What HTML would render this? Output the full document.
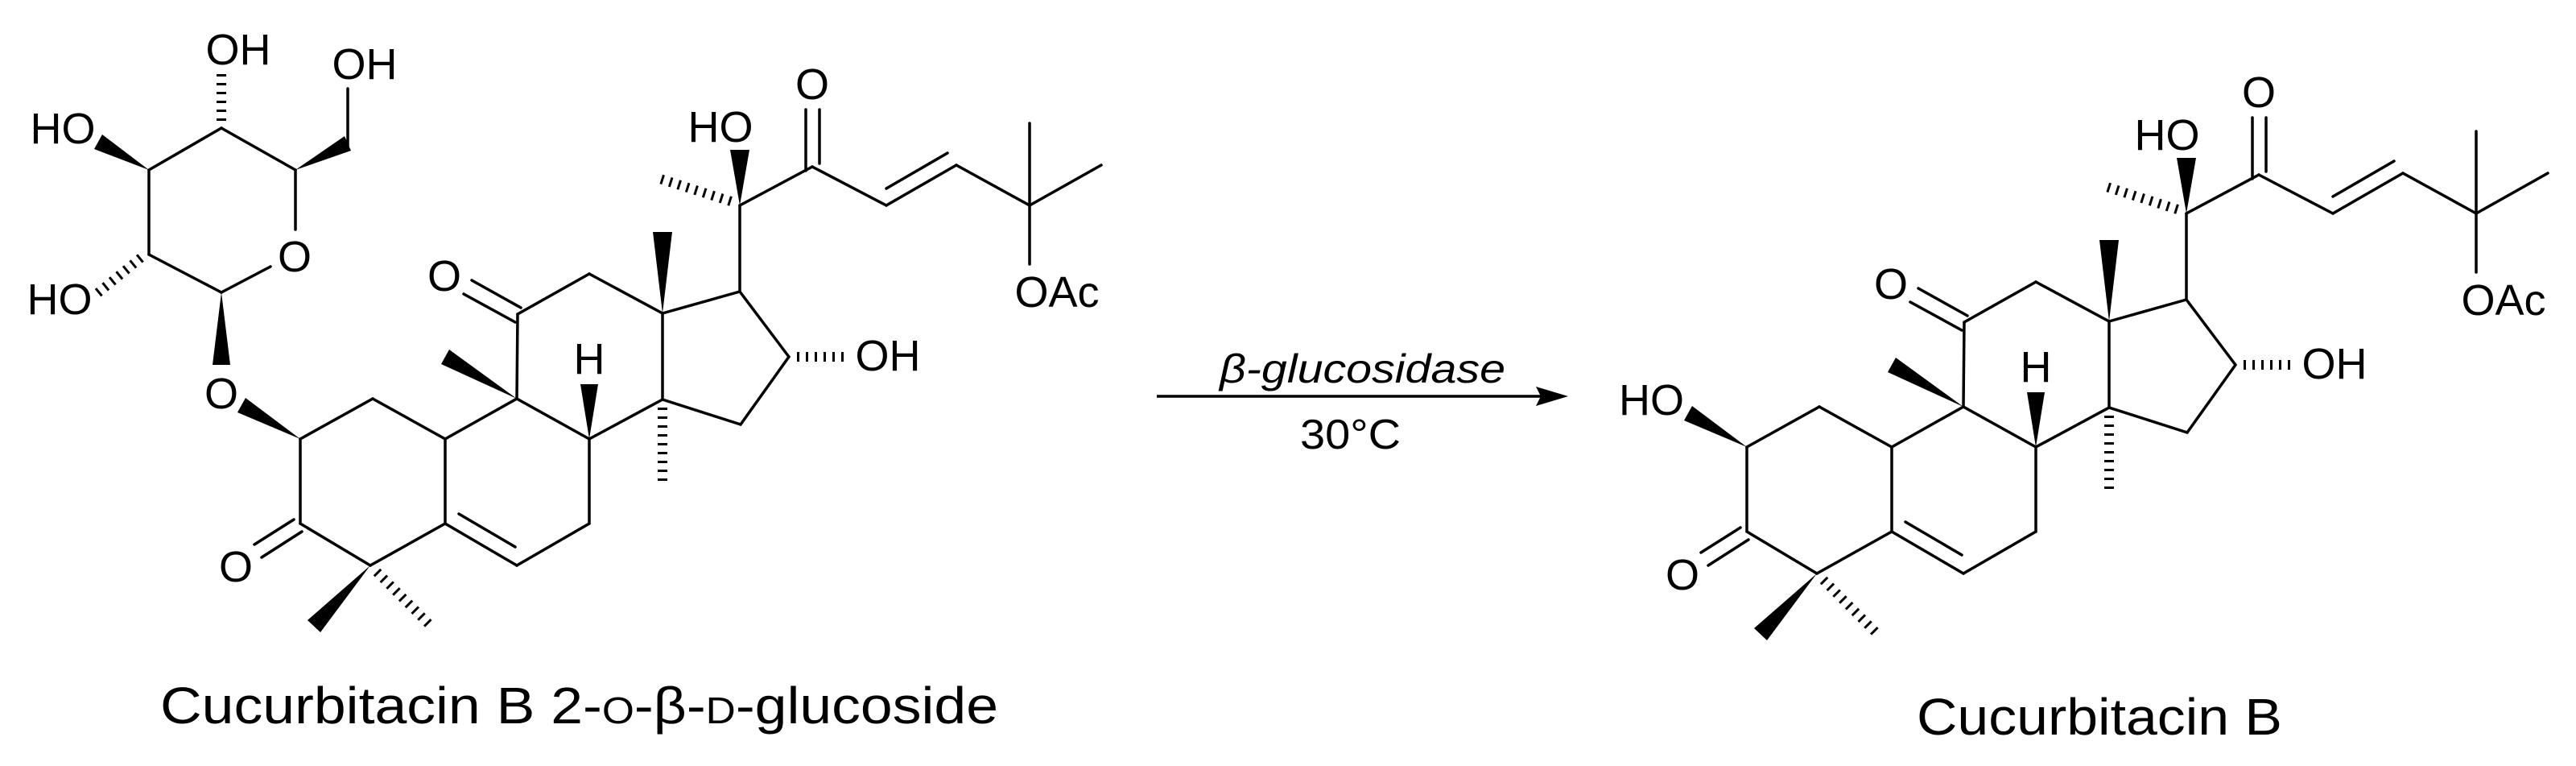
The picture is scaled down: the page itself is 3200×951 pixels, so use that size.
<!DOCTYPE html>
<html><head><meta charset="utf-8"><style>
html,body{margin:0;padding:0;background:#fff;}
svg{display:block;}
text{font-family:"Liberation Sans",Arial,sans-serif;fill:#000;}
</style></head><body>
<svg width="3200" height="951" viewBox="0 0 3200 951" xmlns="http://www.w3.org/2000/svg">
<g stroke="#000" stroke-width="3.5" fill="none" stroke-linecap="round">
<!-- sugar (left only) -->
<line x1="275" y1="363" x2="185" y2="316"/>
<line x1="185" y1="316" x2="185" y2="211"/>
<line x1="185" y1="211" x2="275" y2="159"/>
<line x1="275" y1="159" x2="367" y2="211"/>
<line x1="367" y1="211" x2="367" y2="285"/>
<line x1="336" y1="331" x2="275" y2="363"/>
<line x1="432" y1="182" x2="432" y2="110"/>
</g>
<g stroke="#000" stroke-width="12" fill="none" stroke-dasharray="3 8">
<line x1="275" y1="150" x2="275" y2="88"/>
<line x1="175" y1="320" x2="120" y2="365"/>
</g>
<g fill="#000">
<polygon points="185,211 127,167 117,185"/>
<polygon points="367,211 436,187 428,169"/>
<polygon points="275,363 286,453 264,453"/>
<polygon points="373,545 305,494 295,512"/>
<polygon points="2170,555 2102,504 2092,522"/>
</g>
<g font-size="54">
<text x="296" y="80" text-anchor="middle">OH</text>
<text x="453" y="98" text-anchor="middle">OH</text>
<text x="78" y="178" text-anchor="middle">HO</text>
<text x="366" y="337" text-anchor="middle">O</text>
<text x="74" y="390" text-anchor="middle">HO</text>
<text x="275" y="507" text-anchor="middle">O</text>
<text x="2092" y="515" text-anchor="end">HO</text>
</g>

<!-- core, left -->
<g id="core">
<g stroke="#000" stroke-width="3.5" fill="none" stroke-linecap="round">
<line x1="373" y1="545" x2="463" y2="495"/>
<line x1="463" y1="495" x2="553" y2="545"/>
<line x1="553" y1="545" x2="553" y2="650"/>
<line x1="553" y1="650" x2="460" y2="702"/>
<line x1="460" y1="702" x2="373" y2="650"/>
<line x1="373" y1="650" x2="373" y2="545"/>
<line x1="365" y1="645" x2="316" y2="676"/>
<line x1="375" y1="660" x2="325" y2="692"/>
<line x1="553" y1="650" x2="642" y2="702"/>
<line x1="570" y1="638" x2="640" y2="679"/>
<line x1="642" y1="702" x2="732" y2="650"/>
<line x1="732" y1="650" x2="732" y2="545"/>
<line x1="732" y1="545" x2="642" y2="495"/>
<line x1="642" y1="495" x2="553" y2="545"/>
<line x1="642" y1="495" x2="643" y2="390"/>
<line x1="647" y1="382" x2="586" y2="348"/>
<line x1="640" y1="400" x2="576" y2="365"/>
<line x1="643" y1="390" x2="732" y2="340"/>
<line x1="732" y1="340" x2="823" y2="389"/>
<line x1="823" y1="389" x2="823" y2="496"/>
<line x1="823" y1="496" x2="732" y2="545"/>
<line x1="823" y1="389" x2="919" y2="362"/>
<line x1="919" y1="362" x2="980" y2="443"/>
<line x1="980" y1="443" x2="920" y2="527"/>
<line x1="920" y1="527" x2="823" y2="496"/>
<line x1="919" y1="362" x2="919" y2="255"/>
<line x1="919" y1="255" x2="1009" y2="207"/>
<line x1="1001" y1="136" x2="1001" y2="212"/>
<line x1="1018" y1="136" x2="1018" y2="203"/>
<line x1="1009" y1="207" x2="1101" y2="255"/>
<line x1="1101" y1="255" x2="1188" y2="205"/>
<line x1="1101" y1="234" x2="1177" y2="190"/>
<line x1="1188" y1="205" x2="1279" y2="255"/>
<line x1="1279" y1="255" x2="1279" y2="153"/>
<line x1="1279" y1="255" x2="1368" y2="205"/>
<line x1="1279" y1="255" x2="1279" y2="328"/>
</g>
<g stroke="#000" stroke-width="12" fill="none" stroke-dasharray="3 8">
<line x1="468" y1="710" x2="537" y2="779"/>
<line x1="823" y1="506" x2="823" y2="598"/>
<line x1="990" y1="443" x2="1049" y2="443"/>
<line x1="908" y1="250" x2="820" y2="222"/>
</g>
<g fill="#000">
<polygon points="460,702 398,785 382,770"/>
<polygon points="642,495 558,434 548,452"/>
<polygon points="732,545 743,477 721,477"/>
<polygon points="823,389 835,288 811,288"/>
<polygon points="919,255 931,186 907,186"/>
</g>
<g font-size="54">
<text x="293" y="722" text-anchor="middle">O</text>
<text x="552" y="361" text-anchor="middle">O</text>
<text x="732" y="464" text-anchor="middle">H</text>
<text x="1103" y="460" text-anchor="middle">OH</text>
<text x="895" y="176" text-anchor="middle">HO</text>
<text x="1009" y="123" text-anchor="middle">O</text>
<text x="1313" y="381" text-anchor="middle">OAc</text>
</g>
</g>

<!-- core, right (copy) -->
<g transform="translate(1797,10)">
<g stroke="#000" stroke-width="3.5" fill="none" stroke-linecap="round">
<line x1="373" y1="545" x2="463" y2="495"/>
<line x1="463" y1="495" x2="553" y2="545"/>
<line x1="553" y1="545" x2="553" y2="650"/>
<line x1="553" y1="650" x2="460" y2="702"/>
<line x1="460" y1="702" x2="373" y2="650"/>
<line x1="373" y1="650" x2="373" y2="545"/>
<line x1="365" y1="645" x2="316" y2="676"/>
<line x1="375" y1="660" x2="325" y2="692"/>
<line x1="553" y1="650" x2="642" y2="702"/>
<line x1="570" y1="638" x2="640" y2="679"/>
<line x1="642" y1="702" x2="732" y2="650"/>
<line x1="732" y1="650" x2="732" y2="545"/>
<line x1="732" y1="545" x2="642" y2="495"/>
<line x1="642" y1="495" x2="553" y2="545"/>
<line x1="642" y1="495" x2="643" y2="390"/>
<line x1="647" y1="382" x2="586" y2="348"/>
<line x1="640" y1="400" x2="576" y2="365"/>
<line x1="643" y1="390" x2="732" y2="340"/>
<line x1="732" y1="340" x2="823" y2="389"/>
<line x1="823" y1="389" x2="823" y2="496"/>
<line x1="823" y1="496" x2="732" y2="545"/>
<line x1="823" y1="389" x2="919" y2="362"/>
<line x1="919" y1="362" x2="980" y2="443"/>
<line x1="980" y1="443" x2="920" y2="527"/>
<line x1="920" y1="527" x2="823" y2="496"/>
<line x1="919" y1="362" x2="919" y2="255"/>
<line x1="919" y1="255" x2="1009" y2="207"/>
<line x1="1001" y1="136" x2="1001" y2="212"/>
<line x1="1018" y1="136" x2="1018" y2="203"/>
<line x1="1009" y1="207" x2="1101" y2="255"/>
<line x1="1101" y1="255" x2="1188" y2="205"/>
<line x1="1101" y1="234" x2="1177" y2="190"/>
<line x1="1188" y1="205" x2="1279" y2="255"/>
<line x1="1279" y1="255" x2="1279" y2="153"/>
<line x1="1279" y1="255" x2="1368" y2="205"/>
<line x1="1279" y1="255" x2="1279" y2="328"/>
</g>
<g stroke="#000" stroke-width="12" fill="none" stroke-dasharray="3 8">
<line x1="468" y1="710" x2="537" y2="779"/>
<line x1="823" y1="506" x2="823" y2="598"/>
<line x1="990" y1="443" x2="1049" y2="443"/>
<line x1="908" y1="250" x2="820" y2="222"/>
</g>
<g fill="#000">
<polygon points="460,702 398,785 382,770"/>
<polygon points="642,495 558,434 548,452"/>
<polygon points="732,545 743,477 721,477"/>
<polygon points="823,389 835,288 811,288"/>
<polygon points="919,255 931,186 907,186"/>
</g>
<g font-size="54">
<text x="293" y="722" text-anchor="middle">O</text>
<text x="552" y="361" text-anchor="middle">O</text>
<text x="732" y="464" text-anchor="middle">H</text>
<text x="1103" y="460" text-anchor="middle">OH</text>
<text x="895" y="176" text-anchor="middle">HO</text>
<text x="1009" y="123" text-anchor="middle">O</text>
<text x="1313" y="381" text-anchor="middle">OAc</text>
</g>
</g>

<!-- arrow -->
<line x1="1437" y1="492" x2="1915" y2="492" stroke="#000" stroke-width="3.5"/>
<polygon points="1948,492 1908,480 1914,492 1908,504" fill="#000"/>
<text x="1515" y="475" font-size="50" font-style="italic" textLength="355" lengthAdjust="spacingAndGlyphs">β-glucosidase</text>
<text x="1615" y="557" font-size="52" textLength="125" lengthAdjust="spacingAndGlyphs">30°C</text>

<text x="199" y="898" font-size="64" textLength="1041" lengthAdjust="spacingAndGlyphs">Cucurbitacin B 2-<tspan font-size="46">O</tspan>-β-<tspan font-size="46">D</tspan>-glucoside</text>
<text x="2381" y="912" font-size="64" textLength="454" lengthAdjust="spacingAndGlyphs">Cucurbitacin B</text>
</svg>
</body></html>
